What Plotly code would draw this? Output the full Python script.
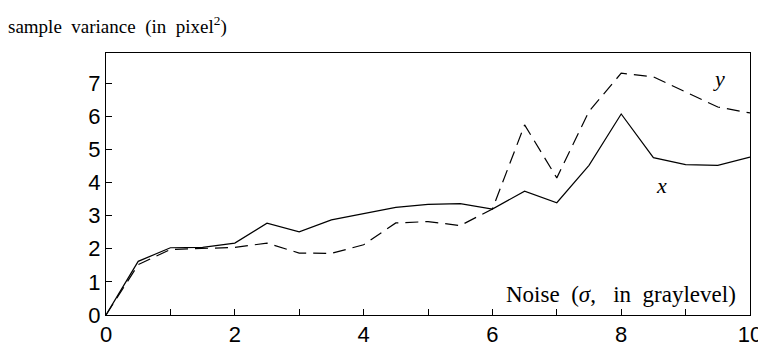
import plotly.graph_objects as go

sigma = [0, 0.5, 1, 1.5, 2, 2.5, 3, 3.5, 4, 4.5, 5, 5.5, 6, 6.5, 7, 7.5, 8, 8.5, 9, 9.5, 10]
var_x = [0, 1.62, 2.03, 2.04, 2.17, 2.77, 2.51, 2.87, 3.06, 3.25, 3.34, 3.36, 3.20, 3.74, 3.39, 4.52, 6.07, 4.75, 4.54, 4.52, 4.77]
var_y = [0, 1.52, 1.98, 2.02, 2.04, 2.17, 1.87, 1.86, 2.12, 2.78, 2.82, 2.70, 3.20, 5.74, 4.14, 6.15, 7.30, 7.19, 6.73, 6.28, 6.10]

x_tickvals = [0, 2, 4, 6, 8, 10]
x_ticktext = [str(v) for v in x_tickvals]
y_tickvals = list(range(0, 8))
y_ticktext = [str(v) for v in y_tickvals]

title_text = "sample\u00a0\u00a0variance\u00a0\u00a0(in\u00a0\u00a0pixel<sup>2</sup>)"
xlabel_text = "Noise\u00a0\u00a0(<i>σ</i>,\u00a0\u00a0\u00a0in\u00a0\u00a0graylevel)"

fig = go.Figure()
fig.add_trace(go.Scatter(x=sigma, y=var_x, mode="lines", name="x",
                         line=dict(color="black", width=1.2)))
fig.add_trace(go.Scatter(x=sigma, y=var_y, mode="lines", name="y",
                         line=dict(color="black", width=1.2, dash="13px,7px")))

serif = "Liberation Serif, Times New Roman, serif"
sans = "Liberation Sans, Arial, Helvetica, sans-serif"

fig.update_layout(
    width=766, height=351,
    margin=dict(l=98, r=19, t=45, b=26),
    paper_bgcolor="white", plot_bgcolor="white",
    showlegend=False,
    xaxis=dict(range=[0, 10], tickvals=x_tickvals, ticktext=x_ticktext,
               ticks="inside", ticklen=6, tickcolor="black", tickwidth=1,
               minor=dict(ticks="inside", ticklen=6, tickcolor="black",
                          tickwidth=1, dtick=1, tick0=0, showgrid=False),
               showline=True, linecolor="black", linewidth=1, mirror=True,
               showgrid=False, zeroline=False,
               tickfont=dict(family=sans, size=22, color="black")),
    yaxis=dict(range=[0, 7.91], tickvals=y_tickvals, ticktext=y_ticktext,
               ticks="inside", ticklen=6, tickcolor="black", tickwidth=1,
               showline=True, linecolor="black", linewidth=1, mirror=True,
               showgrid=False, zeroline=False,
               tickfont=dict(family=sans, size=22, color="black")),
    annotations=[
        dict(text=title_text, xref="paper", yref="paper", x=-0.155, y=1.105,
             xanchor="left", yanchor="middle", showarrow=False,
             font=dict(family=serif, size=19, color="black")),
        dict(text=xlabel_text, xref="paper", yref="paper", x=0.982, y=0.08,
             xanchor="right", yanchor="middle", showarrow=False,
             font=dict(family=serif, size=23, color="black")),
        dict(text="<i>y</i>", x=9.52, y=7.15, xref="x", yref="y",
             showarrow=False, font=dict(family=serif, size=22, color="black")),
        dict(text="<i>x</i>", x=8.63, y=3.9, xref="x", yref="y",
             showarrow=False, font=dict(family=serif, size=22, color="black")),
    ],
)

fig.write_html("out.html")
